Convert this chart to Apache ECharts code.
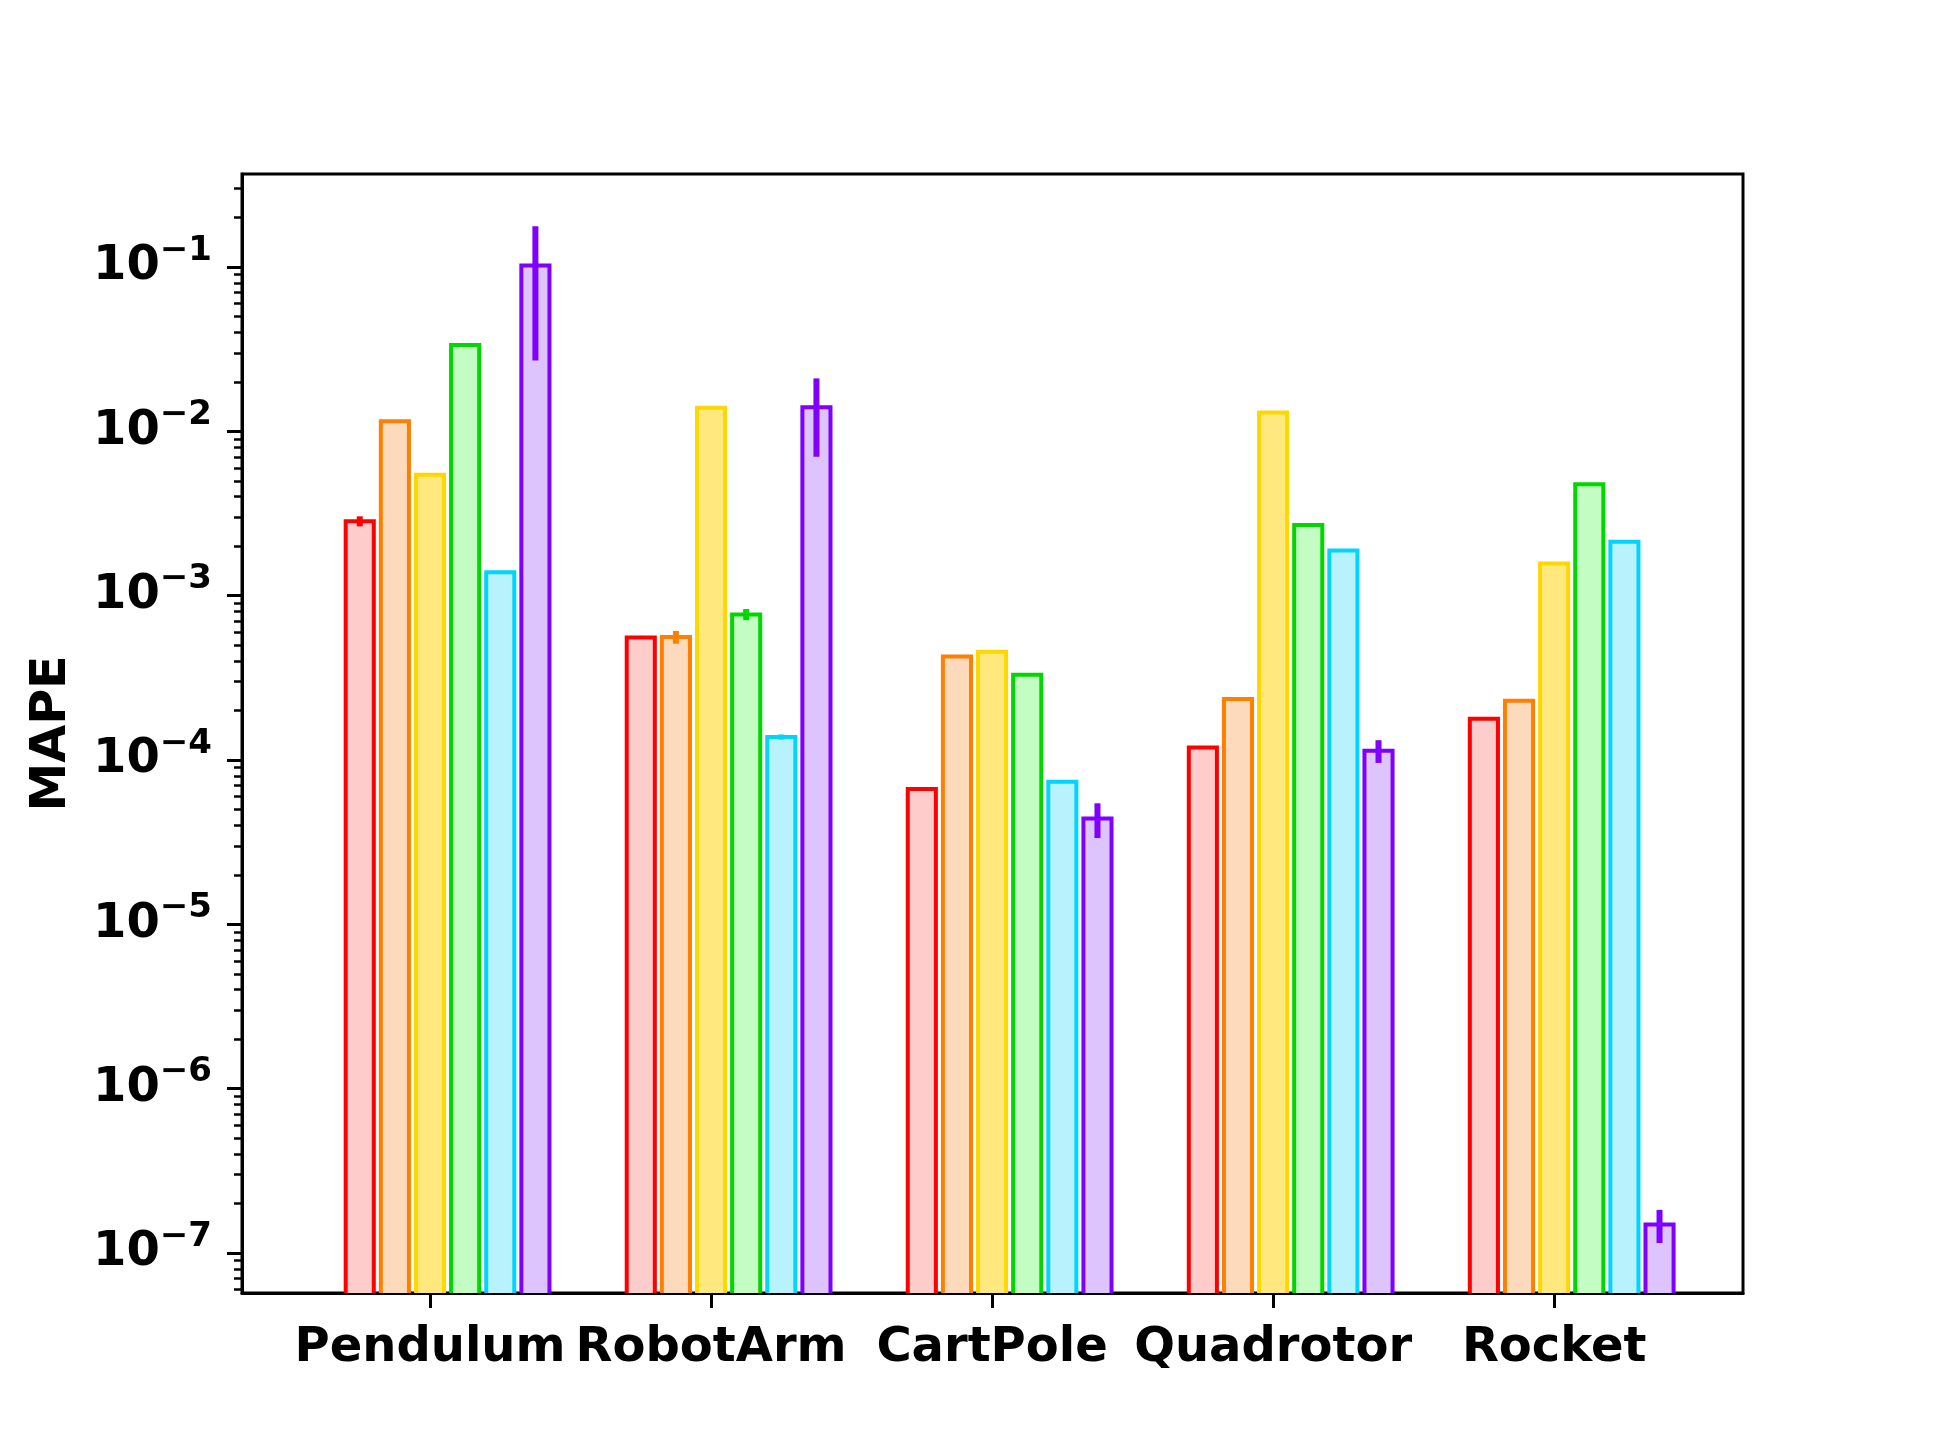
<!DOCTYPE html>
<html>
<head>
<meta charset="utf-8">
<title>MAPE per task</title>
<script src="https://cdn.jsdelivr.net/npm/echarts@6/dist/echarts.min.js"></script>
<style>
  html, body { margin: 0; padding: 0; background: #fff; }
  #chart { width: 1937px; height: 1453px; }
</style>
</head>
<body>
<div id="chart"></div>
<script>
// categories on the x axis
const categories = ['Pendulum', 'RobotArm', 'CartPole', 'Quadrotor', 'Rocket'];

// MAPE per method (one array per bar colour), same order as categories
const redVals    = [2.84e-3, 5.57e-4, 6.65e-5, 1.19e-4, 1.78e-4];
const orangeVals = [1.15e-2, 5.60e-4, 4.27e-4, 2.35e-4, 2.29e-4];
const yellowVals = [5.44e-3, 1.39e-2, 4.56e-4, 1.30e-2, 1.57e-3];
const greenVals  = [3.35e-2, 7.69e-4, 3.30e-4, 2.69e-3, 4.76e-3];
const cyanVals   = [1.39e-3, 1.38e-4, 7.37e-5, 1.88e-3, 2.13e-3];
const purpleVals = [1.02e-1, 1.40e-2, 4.40e-5, 1.14e-4, 1.49e-7];

// error bar half-lengths
const redErr    = [2.0e-4, 1.2e-5, 0, 0, 0];
const orangeErr = [2.0e-4, 5.0e-5, 0, 0, 0];
const yellowErr = [1.0e-4, 2.0e-4, 0, 0, 0];
const greenErr  = [3.0e-4, 6.0e-5, 3.0e-6, 0, 0];
const cyanErr   = [0, 5.0e-6, 1.0e-6, 0, 0];
const purpleErr = [7.5e-2, 7.0e-3, 1.05e-5, 1.8e-5, 3.4e-8];

// y axis ticks
const majorTicks = [1e-7, 1e-6, 1e-5, 1e-4, 1e-3, 1e-2, 1e-1];
const minorTicks = [];
for (let k = -8; k <= -1; k++) {
  for (let m = 2; m <= 9; m++) minorTicks.push(m * Math.pow(10, k));
}

const yMin = 5.71e-8;
const yMax = 0.368;

const methods = [
  { vals: redVals,    err: redErr,    edge: '#ff0000', fill: '#ffcccc' },
  { vals: orangeVals, err: orangeErr, edge: '#ff8000', fill: '#fddabc' },
  { vals: yellowVals, err: yellowErr, edge: '#ffd700', fill: '#ffe97e' },
  { vals: greenVals,  err: greenErr,  edge: '#00d700', fill: '#c3fdc3' },
  { vals: cyanVals,   err: cyanErr,   edge: '#00d4ff', fill: '#b7f2fd' },
  { vals: purpleVals, err: purpleErr, edge: '#7f00ff', fill: '#dec4fd' }
];

const barWidth = 0.1;
const barStep = 0.125;
const font = 'DejaVu Sans';

function makeRender(idx, m) {
  const off = (idx - 2) * barStep;
  return function (params, api) {
    const cx = api.value(0) + off;
    const v = api.value(1);
    const e = api.value(2);
    const p0 = api.coord([cx - barWidth / 2, v]);
    const p1 = api.coord([cx + barWidth / 2, yMin]);
    const children = [{
      type: 'rect',
      shape: { x: p0[0], y: p0[1], width: p1[0] - p0[0], height: p1[1] - p0[1] + 20 },
      style: { fill: m.fill, stroke: m.edge, lineWidth: 4 }
    }];
    if (e > 0) {
      const a = api.coord([cx, v - e]);
      const b = api.coord([cx, v + e]);
      children.push({
        type: 'line',
        shape: { x1: a[0], y1: a[1], x2: b[0], y2: b[1] },
        style: { stroke: m.edge, lineWidth: 6 }
      });
    }
    return { type: 'group', children: children };
  };
}

const chart = echarts.init(document.getElementById('chart'));

chart.setOption({
  backgroundColor: '#fff',
  animation: false,
  grid: {
    left: 242, top: 174, right: 194, bottom: 160,
    show: true, borderColor: '#000', borderWidth: 3,
    outerBoundsMode: 'none'
  },
  xAxis: {
    type: 'value',
    min: -0.669,
    max: 4.672,
    splitLine: { show: false },
    axisLine: { onZero: false, lineStyle: { color: '#000', width: 3 } },
    axisTick: { customValues: [0, 1, 2, 3, 4], length: 15, lineStyle: { color: '#000', width: 3 } },
    axisLabel: {
      customValues: [0, 1, 2, 3, 4],
      formatter: function (v) { return categories[Math.round(v)]; },
      margin: 32,
      color: '#000',
      fontFamily: font,
      fontWeight: 'bold',
      fontSize: 48
    }
  },
  yAxis: [{
    type: 'log',
    logBase: 10,
    min: yMin,
    max: yMax,
    position: 'left',
    name: 'MAPE',
    nameLocation: 'middle',
    nameGap: 165,
    nameTextStyle: { color: '#000', fontFamily: font, fontWeight: 'bold', fontSize: 49 },
    splitLine: { show: false },
    axisLine: { show: true, onZero: false, lineStyle: { color: '#000', width: 3 } },
    axisTick: { customValues: majorTicks, length: 15, lineStyle: { color: '#000', width: 3 } },
    axisLabel: {
      customValues: majorTicks,
      margin: 30,
      formatter: function (v) {
        const p = Math.round(Math.log10(v));
        return '{b|10}{s|\u2212' + Math.abs(p) + '}';
      },
      rich: {
        b: { fontFamily: font, fontWeight: 'bold', fontSize: 48, color: '#000' },
        s: { fontFamily: font, fontWeight: 'bold', fontSize: 34, color: '#000', padding: [0, 0, 32, 0] }
      }
    }
  }, {
    type: 'log',
    logBase: 10,
    min: yMin,
    max: yMax,
    position: 'left',
    splitLine: { show: false },
    axisLine: { show: false, onZero: false },
    axisLabel: { show: false },
    axisTick: { customValues: minorTicks, length: 8, lineStyle: { color: '#000', width: 2.5 } }
  }],
  series: methods.map(function (m, idx) {
    return {
      type: 'custom',
      coordinateSystem: 'cartesian2d',
      yAxisIndex: 0,
      clip: true,
      encode: { x: 0, y: 1 },
      renderItem: makeRender(idx, m),
      data: m.vals.map(function (v, i) { return [i, v, m.err[i]]; })
    };
  })
});
</script>
</body>
</html>
